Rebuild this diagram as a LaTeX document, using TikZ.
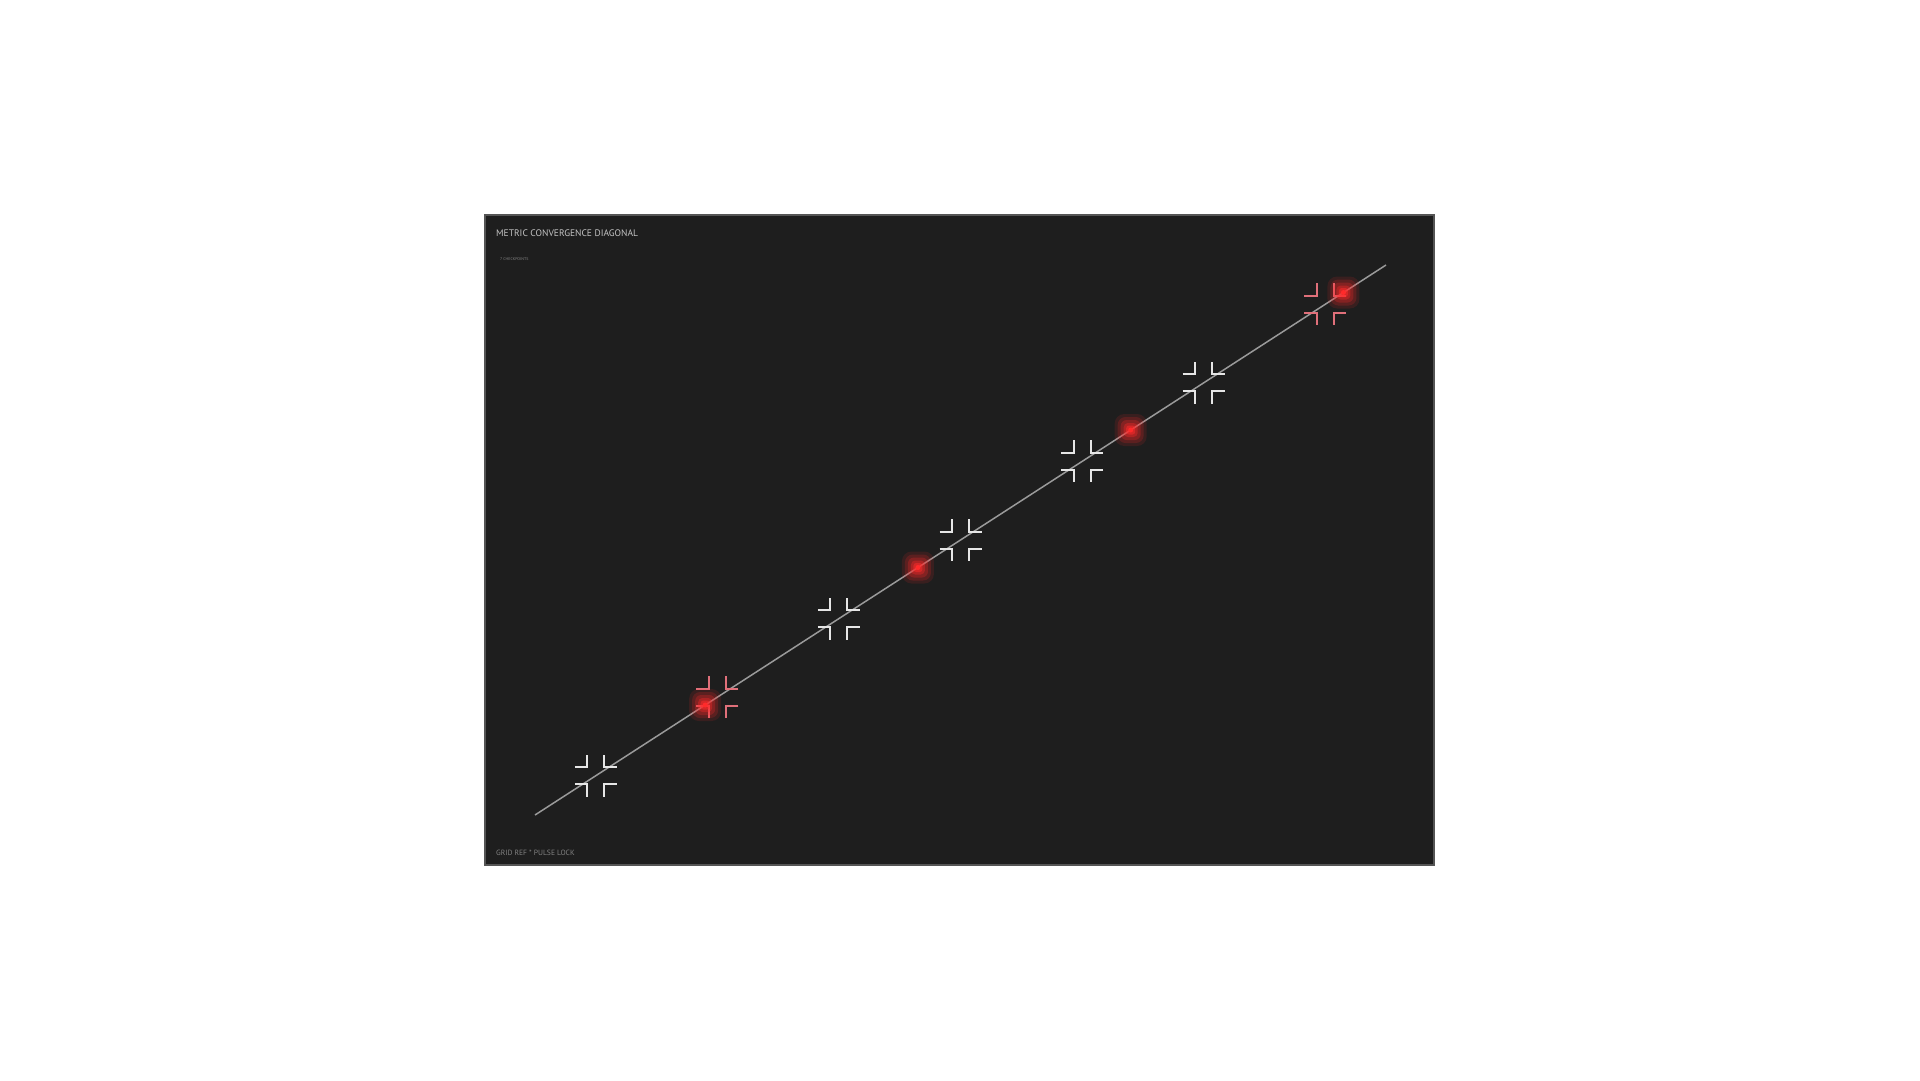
\documentclass[tikz,border=0pt]{standalone}
\usepackage{fontspec}
\setmainfont{PT Sans}
\usetikzlibrary{calc}
\definecolor{panelbg}{HTML}{1E1E1E}
\definecolor{panelrim}{HTML}{555555}
\definecolor{railgray}{HTML}{9A9A9A}
\definecolor{tickwhite}{HTML}{E6E6E6}
\definecolor{tickred}{HTML}{E0707A}
\definecolor{pulsered}{HTML}{FF2A2A}
\tikzset{
  reticle/.pic={
    \draw (-21,-8.5)--(-8.5,-8.5)--(-8.5,-21);
    \draw (21,-8.5)--(8.5,-8.5)--(8.5,-21);
    \draw (-21,8.5)--(-8.5,8.5)--(-8.5,21);
    \draw (21,8.5)--(8.5,8.5)--(8.5,21);
  },
  pulse/.pic={
    \foreach \r/\o in {16/0.12,13/0.18,10/0.25,7/0.35,4.5/0.5}
      \fill[pulsered,opacity=\o,rounded corners=\r*0.6] (-\r,-\r) rectangle (\r,\r);
    \fill[pulsered] (0,0) circle (2.5);
  }
}
\begin{document}
\begin{tikzpicture}[x=1pt,y=-1pt]
\useasboundingbox (0,0) rectangle (1920,1080);
\fill[white] (0,0) rectangle (1920,1080);
% panel
\filldraw[fill=panelbg,draw=panelrim,line width=2.5pt] (485,215) rectangle (1434,865);
\node[anchor=base west,inner sep=0,text=tickwhite!85!black,font=\fontsize{9.5}{10}\selectfont] (title) at (496,236) {METRIC CONVERGENCE DIAGONAL};
\node[anchor=west,inner sep=0,text=white!45!panelbg,font=\fontsize{4}{5}\selectfont] (count) at (500,259) {7 CHECKPOINTS};
\node[anchor=west,inner sep=0,text=white!45!panelbg,font=\fontsize{7.6}{8}\selectfont] (foot) at (496,853) {GRID REF * PULSE LOCK};
% diagonal
\coordinate (start) at (535,815);
\coordinate (end) at (1386,265);
\draw[railgray,line width=1.5pt] (start) -- (end);
% checkpoints
\foreach \i in {0,...,6}
  \coordinate (cp\i) at ($(start)!{(\i+0.5)/7}!(end)$);
\foreach \i in {0,2,3,4,5}
  \pic[tickwhite,line width=2pt] at (cp\i) {reticle};
\foreach \i in {1,6}
  \pic[tickred,line width=2pt] at (cp\i) {reticle};
% pulses
\foreach \t in {0.2,0.45,0.7,0.95}
  \pic at ($(start)!\t!(end)$) {pulse};
\end{tikzpicture}
\end{document}
